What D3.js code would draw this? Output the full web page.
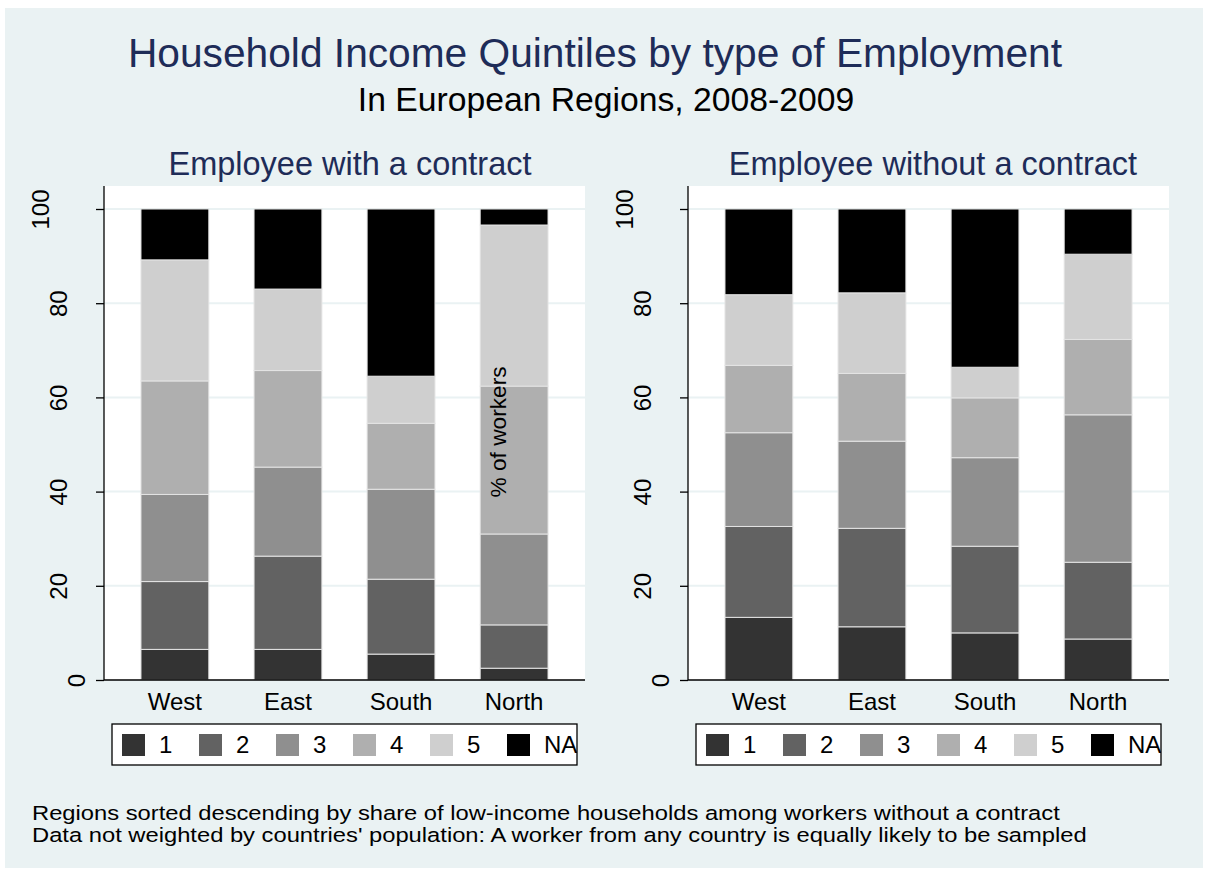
<!DOCTYPE html>
<html>
<head>
<meta charset="utf-8">
<script src="https://cdnjs.cloudflare.com/ajax/libs/d3/7.8.5/d3.min.js"></script>
<style>
body { margin: 0; background: #fff; }
svg text { font-family: "Liberation Sans", Arial, Helvetica, sans-serif; }
</style>
</head>
<body>
<div id="chart"></div>
<script>
// data (percent of workers per income quintile)
var regions = ["West", "East", "South", "North"];
var quintiles = ["1", "2", "3", "4", "5", "NA"];
var yTicks = [0, 20, 40, 60, 80, 100];

// rows = quintile 1..5, NA ; columns = West, East, South, North
var withContract = [
    [6.5, 6.5, 5.5, 2.5],
    [14.4, 19.8, 15.9, 9.2],
    [18.5, 18.9, 19.1, 19.3],
    [24.1, 20.5, 14.0, 31.4],
    [25.7, 17.3, 10.0, 34.2],
    [10.8, 17.0, 35.5, 3.4]
];

var withoutContract = [
    [13.3, 11.3, 10.0, 8.7],
    [19.3, 20.9, 18.4, 16.3],
    [19.9, 18.5, 18.8, 31.3],
    [14.3, 14.4, 12.7, 16.0],
    [15.0, 17.1, 6.5, 18.1],
    [18.2, 17.8, 33.6, 9.6]
];

var colors = ["#333333", "#626262", "#8f8f8f", "#afafaf", "#cfcfcf", "#000000"];

var w = 1207,
    h = 870,
    navy = "#1e2c58",
    bg = "#eaf2f3",
    plotTop = 186,
    plotBottom = 680;

var svg = d3.select("#chart")
    .append("svg")
    .attr("width", w)
    .attr("height", h);

// graph region
svg.append("rect")
    .attr("x", 5).attr("y", 8)
    .attr("width", 1198).attr("height", 860)
    .attr("fill", bg);

// titles
svg.append("text")
    .attr("x", 595).attr("y", 67)
    .attr("text-anchor", "middle")
    .style("font-size", "40.7px")
    .attr("fill", navy)
    .text("Household Income Quintiles by type of Employment");

svg.append("text")
    .attr("x", 606).attr("y", 111)
    .attr("text-anchor", "middle")
    .style("font-size", "33.7px")
    .attr("fill", "#000")
    .text("In European Regions, 2008-2009");

var panels = [
    { title: "Employee with a contract", data: withContract, left: 104, right: 585, titleX: 350, legendX: 112 },
    { title: "Employee without a contract", data: withoutContract, left: 688, right: 1169, titleX: 933, legendX: 696 }
];

var y = d3.scaleLinear().domain([0, 100]).range([plotBottom, 209]);

panels.forEach(function(p, pi) {
    var x = d3.scaleBand()
        .domain(regions)
        .range([p.left, p.right])
        .paddingInner(0.4)
        .paddingOuter(0.327);

    var g = svg.append("g").attr("class", "panel");

    // plot region
    g.append("rect")
        .attr("x", p.left).attr("y", plotTop)
        .attr("width", p.right - p.left)
        .attr("height", plotBottom - plotTop)
        .attr("fill", "#fff");

    // gridlines
    g.selectAll(".grid")
        .data(yTicks.filter(function(d) { return d > 0; }))
        .enter()
        .append("line")
        .attr("class", "grid")
        .attr("x1", p.left).attr("x2", p.right)
        .attr("y1", function(d) { return y(d); })
        .attr("y2", function(d) { return y(d); })
        .attr("stroke", bg)
        .attr("stroke-width", 2);

    // stacked bars
    var rows = regions.map(function(r, i) {
        var o = { region: r };
        quintiles.forEach(function(q, j) { o[q] = p.data[j][i]; });
        return o;
    });
    var series = d3.stack().keys(quintiles)(rows);

    g.selectAll(".layer")
        .data(series)
        .enter()
        .append("g")
        .attr("class", "layer")
        .attr("fill", function(d, i) { return colors[i]; })
        .selectAll("rect")
        .data(function(d) { return d; })
        .enter()
        .append("rect")
        .attr("x", function(d) { return x(d.data.region); })
        .attr("y", function(d) { return y(d[1]); })
        .attr("width", x.bandwidth())
        .attr("height", function(d) { return y(d[0]) - y(d[1]); })
        .attr("stroke", "#e4e4e4")
        .attr("stroke-width", 1);

    // y axis
    var yAxis = d3.axisLeft(y)
        .tickValues(yTicks)
        .tickSize(8)
        .tickFormat(d3.format("d"));

    var ga = g.append("g")
        .attr("transform", "translate(" + p.left + ",0)")
        .call(yAxis);
    ga.select(".domain").remove();
    ga.selectAll(".tick line").attr("stroke", "#000").attr("stroke-width", 1.3);
    ga.selectAll(".tick text")
        .attr("x", null)
        .attr("text-anchor", "middle")
        .attr("dy", "0.35em")
        .attr("fill", "#000")
        .style("font-size", "24px")
        .attr("transform", function(d) {
            var len = String(d).length;
            return "translate(" + (-9.5 - 18 * len) + ",0) rotate(-90)";
        });

    // axis lines
    g.append("line")
        .attr("x1", p.left).attr("x2", p.left)
        .attr("y1", plotTop).attr("y2", plotBottom)
        .attr("stroke", "#000").attr("stroke-width", 1.3);
    g.append("line")
        .attr("x1", p.left).attr("x2", p.right)
        .attr("y1", plotBottom).attr("y2", plotBottom)
        .attr("stroke", "#000").attr("stroke-width", 1.3);

    // x labels
    g.selectAll(".xlab")
        .data(regions)
        .enter()
        .append("text")
        .attr("class", "xlab")
        .attr("x", function(d) { return x(d) + x.bandwidth() / 2; })
        .attr("y", 710)
        .attr("text-anchor", "middle")
        .style("font-size", "24px")
        .attr("fill", "#000")
        .text(function(d) { return d; });

    // panel title
    g.append("text")
        .attr("x", p.titleX).attr("y", 175)
        .attr("text-anchor", "middle")
        .style("font-size", "32.5px")
        .attr("fill", navy)
        .text(p.title);

    // legend
    var lg = g.append("g").attr("class", "legend");
    lg.append("clipPath")
        .attr("id", "lclip" + pi)
        .append("rect")
        .attr("x", p.legendX).attr("y", 724)
        .attr("width", 465).attr("height", 41);
    lg.append("rect")
        .attr("x", p.legendX).attr("y", 724)
        .attr("width", 465).attr("height", 41)
        .attr("fill", "#fff");
    var items = lg.append("g")
        .attr("clip-path", "url(#lclip" + pi + ")")
        .selectAll(".item")
        .data(quintiles)
        .enter()
        .append("g")
        .attr("class", "item");
    items.append("rect")
        .attr("x", function(d, i) { return p.legendX + 10 + i * 77; })
        .attr("y", 734)
        .attr("width", 23).attr("height", 22)
        .attr("fill", function(d, i) { return colors[i]; });
    items.append("text")
        .attr("x", function(d, i) { return p.legendX + 47 + i * 77; })
        .attr("y", 753)
        .style("font-size", "24px")
        .attr("fill", "#000")
        .text(function(d) { return d; });
    lg.append("rect")
        .attr("x", p.legendX).attr("y", 724)
        .attr("width", 465).attr("height", 41)
        .attr("fill", "none")
        .attr("stroke", "#000")
        .attr("stroke-width", 1.3);
});

// y axis title, placed where the figure has it
svg.append("text")
    .attr("transform", "translate(506,432) rotate(-90)")
    .attr("text-anchor", "middle")
    .style("font-size", "22.7px")
    .attr("fill", "#000")
    .text("% of workers");

// notes (the source renders these a little wider than the font)
var notes = [
    "Regions sorted descending by share of low-income households among workers without a contract",
    "Data not weighted by countries' population: A worker from any country is equally likely to be sampled"
];
svg.selectAll(".note")
    .data(notes)
    .enter()
    .append("text")
    .attr("class", "note")
    .attr("transform", function(d, i) { return "translate(32," + (820 + i * 22) + ") scale(1.17,1)"; })
    .style("font-size", "20.3px")
    .attr("fill", "#000")
    .text(function(d) { return d; });
</script>
</body>
</html>
